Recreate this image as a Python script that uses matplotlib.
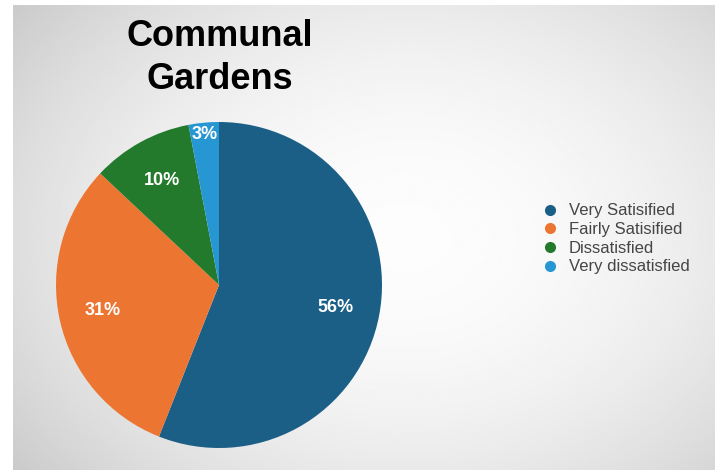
import numpy as np
import matplotlib.pyplot as plt
from matplotlib.lines import Line2D

plt.rcParams["font.family"] = ["Liberation Sans", "DejaVu Sans"]

labels = ["Very Satisified", "Fairly Satisified", "Dissatisfied", "Very dissatisfied"]
shares = [56, 31, 10, 3]
colors = ["#1b5f87", "#ec7532", "#247a2c", "#2797d3"]

W, H = 723, 472
fig = plt.figure(figsize=(W / 100, H / 100), dpi=100)
fig.patch.set_facecolor("white")

# grey panel with a soft light spot
bg = fig.add_axes([13 / W, 2 / H, 702 / W, 465 / H])
gx, gy = np.meshgrid(np.linspace(0, 1, 400), np.linspace(0, 1, 300))
d = ((gx - 0.56) / 0.7) ** 2 + ((gy - 0.5) / 0.8) ** 2
shade = 0.99 - 0.19 * np.clip(d, 0, 1.1)
bg.imshow(shade, cmap="gray", vmin=0, vmax=1, extent=(0, 1, 0, 1),
          aspect="auto", interpolation="bilinear")
bg.set_axis_off()

# pie, 163 px radius, centred at (219, 285)
r_px = 163
box = 330
ax = fig.add_axes([(219 - box / 2) / W, (H - 285 - box / 2) / H, box / W, box / H])
wedges, texts, autotexts = ax.pie(
    shares, colors=colors, startangle=90, counterclock=False,
    autopct="%d%%", pctdistance=0.73,
    textprops=dict(color="white", fontsize=13, fontweight="bold"),
    wedgeprops=dict(linewidth=0),
)
lim = box / 2 / r_px
ax.set_xlim(-lim, lim)
ax.set_ylim(-lim, lim)
ax.set_aspect("equal")
ax.set_axis_off()

# the thin slice gets its label near the rim
w = wedges[-1]
mid = np.deg2rad((w.theta1 + w.theta2) / 2)
autotexts[-1].set_position((0.93 * np.cos(mid), 0.93 * np.sin(mid)))

fig.text(220 / W, 1 - 58 / H, "Communal\nGardens", ha="center", va="center",
         fontsize=26, fontweight="bold", color="black", linespacing=1.3)

handles = [Line2D([], [], marker="o", linestyle="", markersize=8,
                  markerfacecolor=c, markeredgewidth=0) for c in colors]
leg = fig.legend(handles, labels, loc="center left",
                 bbox_to_anchor=(533 / W, 1 - 239 / H), frameon=False,
                 fontsize=12, labelspacing=0.22, handletextpad=0.65,
                 handlelength=1.0, borderpad=0)
for t in leg.get_texts():
    t.set_color("#454545")

fig.savefig("out.png", dpi=100)
